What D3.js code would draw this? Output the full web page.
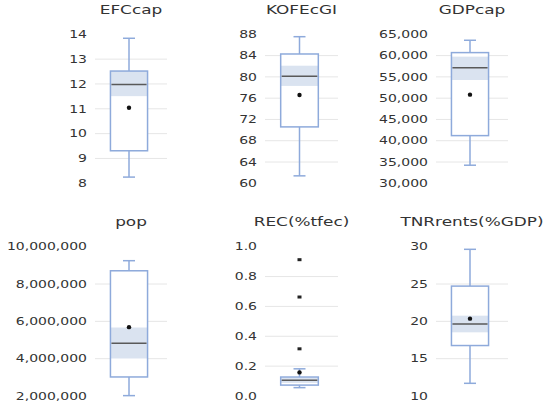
<!DOCTYPE html>
<html>
<head>
<meta charset="utf-8">
<script src="https://cdn.jsdelivr.net/npm/d3@7"></script>
<style>
  body { margin: 0; background: #fff; }
  svg { display: block; }
  text { font-family: "DejaVu Sans", sans-serif; fill: #333; }
</style>
</head>
<body>
<div id="chart"></div>
<script>
// values
const names = ['EFCcap', 'KOFEcGI', 'GDPcap', 'pop', 'REC(%tfec)', 'TNRrents(%GDP)']
const whiskerLow = [8.25, 61.4, 34250, 2020000, 0.056, 11.7]
const q1 = [9.31, 70.6, 41200, 3020000, 0.073, 16.76]
const median = [11.98, 80.1, 57160, 4820000, 0.105, 19.65]
const q3 = [12.52, 84.3, 60700, 8710000, 0.127, 24.72]
const whiskerHigh = [13.84, 87.55, 63600, 9250000, 0.182, 29.65]
const mean = [11.04, 76.6, 50820, 5690000, 0.158, 20.36]
const ciLow = [11.51, 78.3, 54270, 4010000, 0.088, 18.53]
const ciHigh = [12.52, 82.1, 59750, 5670000, 0.122, 20.76]
const outliers = [[], [], [], [], [0.913, 0.663, 0.316], []]

// axis ranges and tick values
const axisMin = [8, 60, 30000, 2000000, 0, 10]
const axisMax = [14, 88, 65000, 10000000, 1, 30]
const tickStep = [1, 4, 5000, 2000000, 0.2, 5]
const tickFormats = [',', ',', ',', ',', '.1f', ',']

const W = 550, H = 406
const cols = [[95, 167], [265, 338], [436, 508]]
const rows = [{ top: 34.3, bottom: 183.3, title: 14 }, { top: 246.7, bottom: 396, title: 226 }]
const stretch = 1.4 // the reference text is wide

const svg = d3.select('#chart').append('svg')
  .attr('width', W).attr('height', H)

names.forEach((name, i) => {
  const [x0, x1] = cols[i % 3]
  const row = rows[Math.floor(i / 3)]

  const y = d3.scaleLinear().domain([axisMin[i], axisMax[i]]).range([row.bottom, row.top])
  const x = d3.scaleBand().domain([name]).range([x0 - 2, x1 - 2]).paddingOuter(0.47)
  const ticks = d3.range(axisMin[i], axisMax[i] + tickStep[i] / 2, tickStep[i])

  const g = svg.append('g')

  // gridlines, inner ticks only
  g.selectAll('.grid').data(ticks.slice(1, -1)).enter().append('line')
    .attr('x1', x0).attr('x2', x1)
    .attr('y1', (d) => y(d)).attr('y2', (d) => y(d))
    .attr('stroke', '#e6e6e6').attr('stroke-width', 1)

  const axis = g.append('g')
    .attr('transform', `translate(${x0},0)`)
    .call(d3.axisLeft(y).tickValues(ticks).tickFormat(d3.format(tickFormats[i])).tickSize(0))
  axis.select('.domain').remove()
  axis.selectAll('text')
    .attr('x', -8 / stretch)
    .attr('transform', `scale(${stretch},1)`)
    .style('font-family', '"DejaVu Sans", sans-serif')
    .style('font-size', '10px')
    .attr('fill', '#333')

  // title
  g.append('text')
    .attr('transform', `translate(${(x0 + x1) / 2},${row.title}) scale(1.32,1)`)
    .attr('text-anchor', 'middle')
    .style('font-size', '12.8px')
    .text(name)

  const cx = x(name) + x.bandwidth() / 2
  const stroke = '#8eaadb'

  // whiskers
  g.append('line').attr('x1', cx).attr('x2', cx)
    .attr('y1', y(whiskerHigh[i])).attr('y2', y(q3[i]))
    .attr('stroke', stroke).attr('stroke-width', 1.5)
  g.append('line').attr('x1', cx).attr('x2', cx)
    .attr('y1', y(q1[i])).attr('y2', y(whiskerLow[i]))
    .attr('stroke', stroke).attr('stroke-width', 1.5)
  ;[whiskerHigh[i], whiskerLow[i]].forEach((v) => {
    g.append('line').attr('x1', cx - 6).attr('x2', cx + 6)
      .attr('y1', y(v)).attr('y2', y(v))
      .attr('stroke', stroke).attr('stroke-width', 1.5)
  })

  // box
  g.append('rect')
    .attr('x', x(name)).attr('width', x.bandwidth())
    .attr('y', y(q3[i])).attr('height', y(q1[i]) - y(q3[i]))
    .attr('fill', '#fff')
  g.append('rect')
    .attr('x', x(name)).attr('width', x.bandwidth())
    .attr('y', y(ciHigh[i])).attr('height', y(ciLow[i]) - y(ciHigh[i]))
    .attr('fill', '#dae3f0')
  g.append('rect')
    .attr('x', x(name)).attr('width', x.bandwidth())
    .attr('y', y(q3[i])).attr('height', y(q1[i]) - y(q3[i]))
    .attr('fill', 'none').attr('stroke', stroke).attr('stroke-width', 1.5)

  // median
  g.append('line')
    .attr('x1', x(name) + 1).attr('x2', x(name) + x.bandwidth() - 1)
    .attr('y1', y(median[i])).attr('y2', y(median[i]))
    .attr('stroke', '#595959').attr('stroke-width', 1.5)

  // mean
  g.append('circle').attr('cx', cx).attr('cy', y(mean[i])).attr('r', 2.2).attr('fill', '#111')

  // outliers
  g.selectAll('.out').data(outliers[i]).enter().append('rect')
    .attr('x', cx - 2).attr('y', (d) => y(d) - 1.5)
    .attr('width', 4).attr('height', 3)
    .attr('fill', '#222')
})
</script>
</body>
</html>
